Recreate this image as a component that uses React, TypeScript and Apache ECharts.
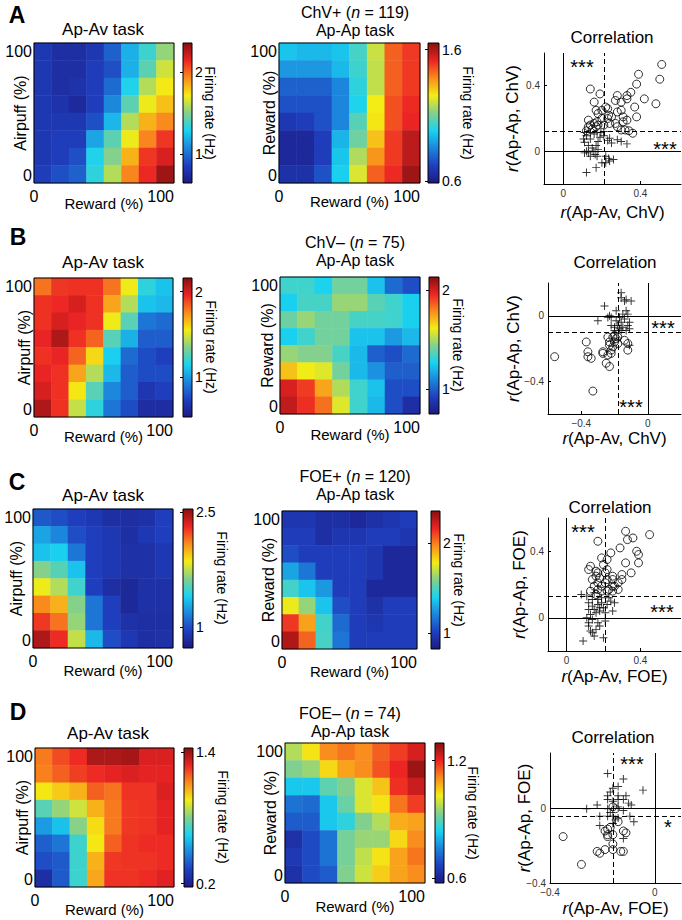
import React, { useEffect, useRef } from 'react';
import * as echarts from 'echarts';

const FONT = '"Liberation Sans", Arial, Helvetica, sans-serif';
const JET = ['#1c1a80', '#1f3fbf', '#1c86dc', '#1ad3f0', '#84d08c', '#f4ec14', '#f98c1d', '#ec2424', '#861010'];

// category levels of the 8x8 maps (columns: reward 0->100, rows: 0->100)
const LEVELS = ['0', '1', '2', '3', '4', '5', '6', '7'];

// ---------- firing-rate maps (Hz); rows listed top (100%) to bottom (0%) ----------
const chvPosApAv = [
  [0.82, 0.77, 0.77, 0.82, 0.96, 1.19, 1.36, 1.53],
  [0.82, 0.77, 0.77, 0.85, 0.91, 1.19, 1.42, 1.64],
  [0.82, 0.77, 0.79, 0.85, 0.99, 1.30, 1.59, 1.72],
  [0.82, 0.79, 0.74, 0.85, 1.08, 1.42, 1.70, 1.81],
  [0.82, 0.82, 0.82, 0.91, 1.21, 1.59, 1.84, 1.93],
  [0.82, 0.85, 0.85, 1.16, 1.42, 1.70, 1.94, 2.10],
  [0.82, 0.85, 0.91, 1.30, 1.50, 1.84, 2.10, 2.18],
  [0.85, 0.91, 0.96, 1.33, 1.59, 1.94, 2.13, 2.30],
];
const chvPosApAp = [
  [0.96, 0.94, 0.94, 0.96, 1.04, 1.20, 1.44, 1.49],
  [0.88, 0.88, 0.88, 0.94, 1.03, 1.19, 1.44, 1.49],
  [0.78, 0.78, 0.78, 0.85, 1.01, 1.19, 1.44, 1.49],
  [0.75, 0.75, 0.75, 0.85, 0.99, 1.25, 1.46, 1.51],
  [0.69, 0.71, 0.75, 0.85, 1.06, 1.26, 1.46, 1.52],
  [0.64, 0.64, 0.71, 0.93, 1.09, 1.31, 1.49, 1.58],
  [0.64, 0.64, 0.71, 0.96, 1.17, 1.37, 1.49, 1.58],
  [0.67, 0.67, 0.75, 0.98, 1.22, 1.44, 1.51, 1.62],
];
const chvNegApAv = [
  [1.80, 1.92, 1.93, 1.93, 1.80, 1.54, 1.18, 1.10],
  [1.93, 1.95, 2.00, 1.93, 1.70, 1.43, 1.10, 1.07],
  [1.93, 2.00, 1.96, 1.93, 1.54, 1.26, 0.89, 0.86],
  [1.96, 2.08, 1.93, 1.83, 1.26, 1.05, 0.82, 0.82],
  [1.93, 1.96, 1.83, 1.59, 1.13, 0.86, 0.77, 0.73],
  [1.96, 1.93, 1.70, 1.43, 1.07, 0.82, 0.77, 0.77],
  [2.00, 1.93, 1.56, 1.26, 0.94, 0.82, 0.69, 0.73],
  [2.08, 1.93, 1.46, 1.18, 0.89, 0.77, 0.64, 0.64],
];
const chvNegApAp = [
  [1.33, 1.33, 1.27, 1.41, 1.41, 1.23, 1.03, 0.96],
  [1.26, 1.34, 1.34, 1.47, 1.47, 1.37, 1.33, 1.26],
  [1.40, 1.47, 1.41, 1.41, 1.34, 1.34, 1.33, 1.26],
  [1.26, 1.33, 1.41, 1.41, 1.23, 1.23, 1.14, 1.21],
  [1.47, 1.44, 1.44, 1.34, 1.21, 1.00, 0.96, 1.03],
  [1.69, 1.61, 1.58, 1.41, 1.21, 1.12, 1.00, 1.00],
  [1.99, 1.92, 1.74, 1.51, 1.33, 1.23, 0.96, 0.96],
  [2.03, 1.94, 1.83, 1.58, 1.33, 1.21, 0.96, 0.85],
];
const foePosApAv = [
  [1.04, 1.00, 0.95, 0.91, 0.86, 0.86, 0.87, 0.95],
  [1.27, 1.18, 1.00, 0.95, 0.91, 0.86, 0.91, 0.95],
  [1.36, 1.40, 1.13, 0.95, 0.91, 0.87, 0.87, 0.91],
  [1.64, 1.54, 1.36, 0.95, 0.91, 0.87, 0.87, 0.91],
  [1.85, 1.73, 1.49, 0.95, 0.86, 0.82, 0.87, 0.87],
  [2.09, 2.00, 1.64, 1.13, 0.95, 0.82, 0.87, 0.87],
  [2.27, 2.14, 1.67, 1.13, 0.95, 0.87, 0.86, 0.86],
  [2.45, 2.30, 1.76, 1.33, 1.00, 0.91, 0.86, 0.87],
];
const foePosApAp = [
  [0.97, 0.97, 0.93, 0.93, 0.90, 0.94, 0.97, 1.00],
  [1.00, 1.00, 0.93, 0.97, 0.97, 1.00, 1.00, 0.97],
  [1.05, 1.00, 1.00, 1.00, 1.00, 0.97, 0.90, 0.90],
  [1.28, 1.16, 1.00, 1.00, 1.00, 0.97, 0.90, 0.90],
  [1.47, 1.36, 1.25, 1.00, 1.00, 0.90, 0.90, 0.90],
  [1.77, 1.62, 1.36, 1.05, 1.00, 0.94, 1.00, 1.00],
  [2.13, 1.93, 1.47, 1.13, 1.00, 0.97, 1.00, 1.00],
  [2.28, 2.05, 1.48, 1.16, 1.00, 1.00, 1.00, 1.00],
];
const foeNegApAv = [
  [1.15, 1.22, 1.27, 1.38, 1.38, 1.39, 1.31, 1.31],
  [1.14, 1.19, 1.24, 1.27, 1.29, 1.31, 1.29, 1.29],
  [0.97, 1.02, 1.06, 1.19, 1.16, 1.26, 1.26, 1.31],
  [0.74, 0.83, 0.91, 1.06, 1.15, 1.25, 1.26, 1.29],
  [0.53, 0.61, 0.81, 0.99, 1.15, 1.25, 1.26, 1.29],
  [0.40, 0.45, 0.70, 0.97, 1.19, 1.26, 1.27, 1.27],
  [0.36, 0.39, 0.70, 1.06, 1.25, 1.26, 1.26, 1.27],
  [0.26, 0.39, 0.70, 1.08, 1.26, 1.26, 1.27, 1.30],
];
const foeNegApAp = [
  [0.97, 1.03, 1.11, 1.13, 1.11, 1.15, 1.18, 1.22],
  [0.93, 0.95, 1.04, 1.09, 1.11, 1.16, 1.20, 1.27],
  [0.83, 0.83, 0.90, 0.93, 1.00, 1.06, 1.19, 1.23],
  [0.73, 0.72, 0.83, 0.91, 1.00, 1.03, 1.13, 1.18],
  [0.70, 0.70, 0.83, 0.86, 0.93, 0.97, 1.08, 1.09],
  [0.63, 0.68, 0.73, 0.92, 0.95, 0.95, 1.04, 1.11],
  [0.65, 0.68, 0.73, 0.92, 0.98, 1.03, 1.09, 1.13],
  [0.63, 0.68, 0.70, 0.93, 0.99, 1.05, 1.09, 1.11],
];

// colour-scale limits and colourbar tick labels (Hz)
const climChvPosApAv = [0.65, 2.35];
const climChvPosApAp = [0.585, 1.65];
const climChvNegApAv = [0.53, 2.16];
const climChvNegApAp = [0.75, 2.13];
const climFoePosApAv = [0.73, 2.54];
const climFoePosApAp = [0.82, 2.36];
const climFoeNegApAv = [0.17, 1.44];
const climFoeNegApAp = [0.575, 1.29];
const cbTicksChvPosApAv = [1, 2];
const cbTicksChvPosApAp = [0.6, 1.6];
const cbTicksChvNegApAv = [1, 2];
const cbTicksChvNegApAp = [1, 2];
const cbTicksFoePosApAv = [1, 2.5];
const cbTicksFoePosApAp = [1, 2];
const cbTicksFoeNegApAv = [0.2, 1.4];
const cbTicksFoeNegApAp = [0.6, 1.2];
const pctTicks = [0, 100];

// ---------- correlation scatter: [r(Ap-Av), r(Ap-Ap)] ----------
const chvPosCircles = [
  [0.51, 0.53], [0.50, 0.44], [0.39, 0.47], [0.38, 0.41], [0.42, 0.32], [0.48, 0.29], [0.33, 0.34], [0.35, 0.36],
  [0.28, 0.34], [0.33, 0.32], [0.30, 0.30], [0.27, 0.31], [0.14, 0.38], [0.19, 0.35], [0.16, 0.30], [0.22, 0.27],
  [0.23, 0.26], [0.17, 0.25], [0.18, 0.23], [0.20, 0.25], [0.28, 0.24], [0.30, 0.25], [0.37, 0.27], [0.38, 0.21],
  [0.31, 0.21], [0.33, 0.19], [0.31, 0.18], [0.27, 0.17], [0.28, 0.15], [0.30, 0.13], [0.32, 0.13], [0.36, 0.11],
  [0.34, 0.125], [0.23, 0.20], [0.24, 0.17], [0.21, 0.16], [0.13, 0.19], [0.14, 0.16], [0.16, 0.17], [0.175, 0.18],
  [0.18, 0.16], [0.13, 0.15], [0.15, 0.135], [0.17, 0.15], [0.20, 0.20], [0.235, 0.22], [0.25, 0.21], [0.12, 0.125],
];
const chvPosCrosses = [
  [0.12, -0.13], [0.17, -0.10], [0.11, -0.01], [0.13, -0.01], [0.175, -0.03], [0.22, -0.03], [0.22, -0.07], [0.24, -0.06],
  [0.26, -0.05], [0.235, -0.045], [0.20, -0.07], [0.25, 0.05], [0.30, 0.06], [0.33, 0.045], [0.28, 0.07], [0.24, 0.08],
  [0.23, 0.065], [0.21, 0.095], [0.19, 0.085], [0.18, 0.06], [0.17, 0.035], [0.15, 0.02], [0.13, 0.035], [0.11, 0.055],
  [0.105, 0.075], [0.12, 0.095], [0.14, 0.075], [0.16, 0.105], [0.175, 0.115], [0.14, 0.115], [0.11, 0.115], [0.195, 0.115],
  [0.21, 0.12], [0.12, 0.0], [0.155, 0.0], [0.165, -0.02], [0.14, -0.03], [0.18, 0.01],
];
const chvNegCircles = [
  [-0.56, -0.25], [-0.37, -0.16], [-0.36, -0.22], [-0.36, -0.25], [-0.34, -0.26], [-0.33, -0.46], [-0.27, -0.22], [-0.27, -0.23],
  [-0.24, -0.13], [-0.23, -0.16], [-0.24, -0.24], [-0.25, -0.29], [-0.23, -0.31], [-0.22, -0.21], [-0.21, -0.19], [-0.20, -0.16],
  [-0.19, -0.14], [-0.20, -0.12], [-0.18, -0.13], [-0.21, -0.13], [-0.14, -0.15], [-0.12, -0.21], [-0.12, -0.17], [-0.22, -0.23],
  [-0.18, -0.17], [-0.23, -0.18],
];
const chvNegCrosses = [
  [-0.16, 0.14], [-0.16, 0.11], [-0.14, 0.09], [-0.10, 0.09], [-0.13, 0.10], [-0.26, 0.06], [-0.19, 0.03], [-0.23, 0.0],
  [-0.22, -0.01], [-0.30, -0.03], [-0.19, -0.03], [-0.17, -0.01], [-0.15, 0.01], [-0.13, 0.03], [-0.12, 0.01], [-0.14, -0.02],
  [-0.16, -0.04], [-0.18, -0.06], [-0.20, -0.07], [-0.17, -0.08], [-0.15, -0.07], [-0.12, -0.06], [-0.11, -0.04], [-0.16, -0.09],
  [-0.20, -0.09], [-0.22, -0.06], [-0.11, -0.08], [-0.13, -0.09], [-0.11, -0.18], [-0.24, -0.01],
];
const foePosCircles = [
  [0.45, 0.50], [0.32, 0.52], [0.33, 0.47], [0.36, 0.48], [0.38, 0.40], [0.39, 0.38], [0.39, 0.33], [0.32, 0.33],
  [0.35, 0.27], [0.30, 0.26], [0.30, 0.23], [0.29, 0.42], [0.24, 0.39], [0.17, 0.46], [0.19, 0.36], [0.22, 0.35],
  [0.20, 0.32], [0.22, 0.29], [0.13, 0.31], [0.12, 0.29], [0.16, 0.28], [0.17, 0.27], [0.21, 0.27], [0.25, 0.25],
  [0.16, 0.25], [0.14, 0.23], [0.18, 0.24], [0.22, 0.23], [0.25, 0.23], [0.28, 0.21], [0.26, 0.19], [0.25, 0.19],
  [0.23, 0.17], [0.28, 0.17], [0.17, 0.21], [0.15, 0.19], [0.19, 0.19], [0.21, 0.21], [0.17, 0.17], [0.19, 0.16],
  [0.22, 0.16], [0.25, 0.16], [0.13, 0.16], [0.16, 0.14],
];
const foePosCrosses = [
  [0.09, -0.14], [0.15, -0.11], [0.20, -0.12], [0.13, -0.08], [0.16, -0.07], [0.12, -0.03], [0.14, -0.01], [0.17, -0.03],
  [0.21, -0.02], [0.11, 0.0], [0.13, 0.02], [0.16, 0.03], [0.18, 0.04], [0.21, 0.03], [0.25, 0.04], [0.26, 0.09],
  [0.24, 0.10], [0.22, 0.08], [0.19, 0.09], [0.17, 0.08], [0.14, 0.07], [0.12, 0.05], [0.15, 0.05], [0.18, 0.06],
  [0.20, 0.06], [0.12, 0.09], [0.14, 0.11], [0.17, 0.11], [0.19, 0.12], [0.23, 0.12], [0.08, 0.14], [0.11, 0.13],
  [0.15, 0.15], [0.12, -0.05], [0.18, -0.05], [0.14, -0.09],
];
const foeNegCircles = [
  [-0.35, -0.15], [-0.28, -0.30], [-0.22, -0.23], [-0.21, -0.24], [-0.19, -0.22], [-0.16, -0.22], [-0.16, -0.19], [-0.13, -0.23],
  [-0.12, -0.23], [-0.18, -0.14], [-0.16, -0.14], [-0.19, -0.12], [-0.12, -0.12], [-0.11, -0.13], [-0.17, -0.10], [-0.14, -0.07],
  [-0.15, 0.0], [-0.16, 0.01], [-0.18, -0.11], [-0.18, -0.15],
];
const foeNegCrosses = [
  [-0.18, 0.19], [-0.12, 0.16], [-0.045, 0.10], [-0.16, 0.11], [-0.14, 0.12], [-0.17, 0.09], [-0.18, 0.07], [-0.14, 0.07],
  [-0.11, 0.07], [-0.18, 0.05], [-0.16, 0.04], [-0.14, 0.05], [-0.12, 0.05], [-0.10, 0.03], [-0.09, 0.02], [-0.22, 0.02],
  [-0.26, 0.0], [-0.18, 0.0], [-0.14, 0.01], [-0.12, -0.01], [-0.21, -0.04], [-0.18, -0.04], [-0.16, -0.04], [-0.14, -0.05],
  [-0.095, -0.04], [-0.08, -0.07], [-0.15, -0.06], [-0.16, -0.08], [-0.21, -0.09], [-0.12, -0.16], [-0.17, -0.02],
];
// population means (dashed lines): [x, y]
const chvPosMeans = [0.21, 0.12];
const chvNegMeans = [-0.18, -0.10];
const foePosMeans = [0.21, 0.13];
const foeNegMeans = [-0.16, -0.04];
// axis limits and tick labels
const corrRangeChvPos = { x: [-0.1, 0.61], y: [-0.2, 0.6] };
const corrRangeChvNeg = { x: [-0.6, 0.2], y: [-0.6, 0.2] };
const corrRangeFoePos = { x: [-0.1, 0.62], y: [-0.2, 0.6] };
const corrRangeFoeNeg = { x: [-0.4, 0.1], y: [-0.4, 0.3] };
const posTicks = [0, 0.4];
const negTicks = [-0.4, 0];

// ---------- layout (pixels) ----------
const HEATMAPS = [
  { values: chvPosApAv, clim: climChvPosApAv, cbTicks: cbTicksChvPosApAv, box: [34, 43, 140, 140], cb: [183, 9], fr: [210, 113], yName: 'Airpuff (%)', yGap: 6, xGap: 13 },
  { values: chvPosApAp, clim: climChvPosApAp, cbTicks: cbTicksChvPosApAp, box: [279, 43, 141, 140], cb: [428, 11], fr: [468, 113], yName: 'Reward (%)', yGap: 2, xGap: 11 },
  { values: chvNegApAv, clim: climChvNegApAv, cbTicks: cbTicksChvNegApAv, box: [34, 278, 139, 139], cb: [183, 9], fr: [211, 347], yName: 'Airpuff (%)', yGap: 2, xGap: 12 },
  { values: chvNegApAp, clim: climChvNegApAp, cbTicks: cbTicksChvNegApAp, box: [280, 277, 140, 137], cb: [429, 10], fr: [458, 345], yName: 'Reward (%)', yGap: 5, xGap: 13 },
  { values: foePosApAv, clim: climFoePosApAv, cbTicks: cbTicksFoePosApAv, box: [33, 509, 140, 139], cb: [183, 10], fr: [222, 578], yName: 'Airpuff (%)', yGap: 9, xGap: 15 },
  { values: foePosApAp, clim: climFoePosApAp, cbTicks: cbTicksFoePosApAp, box: [282, 511, 135, 138], cb: [431, 9], fr: [459, 580], yName: 'Reward (%)', yGap: 6, xGap: 15 },
  { values: foeNegApAv, clim: climFoeNegApAv, cbTicks: cbTicksFoeNegApAv, box: [35, 748, 139, 139], cb: [184, 9], fr: [223, 817], yName: 'Airpuff (%)', yGap: 5, xGap: 15 },
  { values: foeNegApAp, clim: climFoeNegApAp, cbTicks: cbTicksFoeNegApAp, box: [285, 743, 140, 140], cb: [435, 9], fr: [473, 813], yName: 'Reward (%)', yGap: 7, xGap: 16 },
];

const SCATTERS = [
  { circles: chvPosCircles, crosses: chvPosCrosses, means: chvPosMeans, range: corrRangeChvPos, ticks: posTicks, yTicks: posTicks, box: [544, 53, 137, 131], xName: '{i|r}(Ap-Av, ChV)', yName: '{i|r}(Ap-Ap, ChV)', xGap: 20, yGap: 23 },
  { circles: chvNegCircles, crosses: chvNegCrosses, means: chvNegMeans, range: corrRangeChvNeg, ticks: negTicks, yTicks: negTicks, box: [548, 283, 133, 131], xName: '{i|r}(Ap-Av, ChV)', yName: '{i|r}(Ap-Ap, ChV)', xGap: 16, yGap: 26 },
  { circles: foePosCircles, crosses: foePosCrosses, means: foePosMeans, range: corrRangeFoePos, ticks: posTicks, yTicks: posTicks, box: [548, 518, 133, 133], xName: '{i|r}(Ap-Av, FOE)', yName: '{i|r}(Ap-Ap, FOE)', xGap: 17, yGap: 20 },
  { circles: foeNegCircles, crosses: foeNegCrosses, means: foeNegMeans, range: corrRangeFoeNeg, ticks: negTicks, yTicks: negTicks, box: [550, 753, 131, 130], xName: '{i|r}(Ap-Av, FOE)', yName: '{i|r}(Ap-Ap, FOE)', xGap: 17, yGap: 17 },
];

const TEXTS: any[] = [
  // [x, y, text, size, bold]
  [17, 15, 'A', 23, true], [18, 237, 'B', 23, true], [17, 482, 'C', 23, true], [18, 712, 'D', 23, true],
  [103, 29, 'Ap-Av task', 17], [355, 12, 'ChV+ ({i|n} = 119)', 16], [355, 30, 'Ap-Ap task', 16], [612, 37, 'Correlation', 17],
  [103, 262, 'Ap-Av task', 17], [355, 242, 'ChV– ({i|n} = 75)', 16], [355, 260, 'Ap-Ap task', 16], [615, 262, 'Correlation', 17],
  [103, 495, 'Ap-Av task', 17], [355, 476, 'FOE+ ({i|n} = 120)', 16], [355, 494, 'Ap-Ap task', 16], [610, 507, 'Correlation', 17],
  [108, 733, 'Ap-Av task', 17], [350, 713, 'FOE– ({i|n} = 74)', 16], [350, 731, 'Ap-Ap task', 16], [613, 737, 'Correlation', 17],
];
const STARS: any[] = [
  [582, 67, '***'], [665, 149, '***'],
  [663, 328, '***'], [631, 407, '***'],
  [583, 532, '***'], [662, 612, '***'],
  [632, 764, '***'], [668, 827, '*'],
];

const PLUS = 'path://M4.4,0H5.6V4.4H10V5.6H5.6V10H4.4V5.6H0V4.4H4.4Z';
const minus = (v: any) => String(v).replace('-', '\u2212');

function buildOption() {
  const grid: any[] = [];
  const xAxis: any[] = [];
  const yAxis: any[] = [];
  const series: any[] = [];
  const visualMap: any[] = [];
  const graphic: any[] = [];
  const gradient = {
    type: 'linear', x: 0, y: 1, x2: 0, y2: 0,
    colorStops: JET.map((c, i) => ({ offset: i / (JET.length - 1), color: c })),
  };

  HEATMAPS.forEach((h) => {
    const [l, t, w, hh] = h.box;
    const g = grid.length;
    grid.push({ left: l, top: t, width: w, height: hh, show: true, borderColor: '#000', borderWidth: 1, backgroundColor: 'transparent', z: 5 });
    const xi = xAxis.length;
    xAxis.push({ type: 'category', gridIndex: g, data: LEVELS, show: false });
    const yi = yAxis.length;
    yAxis.push({ type: 'category', gridIndex: g, data: LEVELS, show: false });
    xAxis.push({
      type: 'value', gridIndex: g, min: 0, max: 100, position: 'bottom',
      axisLine: { show: false }, axisTick: { show: false }, splitLine: { show: false },
      axisLabel: { customValues: pctTicks, fontSize: 16, color: '#000', margin: 5, fontFamily: FONT, alignMinLabel: 'center', alignMaxLabel: 'right' },
      name: 'Reward (%)', nameLocation: 'middle', nameGap: h.xGap, nameMoveOverlap: false,
      nameTextStyle: { fontSize: 15, color: '#000', fontFamily: FONT },
    });
    yAxis.push({
      type: 'value', gridIndex: g, min: 0, max: 100, position: 'left',
      axisLine: { show: false }, axisTick: { show: false }, splitLine: { show: false },
      axisLabel: { customValues: pctTicks, fontSize: 16, color: '#000', margin: 2, fontFamily: FONT, verticalAlignMinLabel: 'bottom', verticalAlignMaxLabel: 'top' },
      name: h.yName, nameLocation: 'middle', nameGap: h.yGap, nameMoveOverlap: false,
      nameTextStyle: { fontSize: 16, color: '#000', fontFamily: FONT },
    });
    const si = series.length;
    const data: any[] = [];
    h.values.forEach((row, r) => row.forEach((v, c) => data.push([c, LEVELS.length - 1 - r, v])));
    series.push({ type: 'heatmap', xAxisIndex: xi, yAxisIndex: yi, data, itemStyle: { borderWidth: 0 }, emphasis: { disabled: true }, silent: true });
    visualMap.push({ type: 'continuous', show: false, seriesIndex: si, dimension: 2, min: h.clim[0], max: h.clim[1], inRange: { color: JET } });

    // colourbar
    const cg = grid.length;
    grid.push({ left: h.cb[0], top: t, width: h.cb[1], height: hh, show: true, borderColor: '#000', borderWidth: 1, backgroundColor: gradient });
    xAxis.push({ type: 'value', gridIndex: cg, show: false });
    yAxis.push({
      type: 'value', gridIndex: cg, min: h.clim[0], max: h.clim[1], position: 'right',
      axisLine: { show: false }, splitLine: { show: false },
      axisTick: { show: true, inside: true, length: 3, customValues: h.cbTicks, lineStyle: { color: '#000' } },
      axisLabel: { customValues: h.cbTicks, fontSize: 14, color: '#000', margin: 3, fontFamily: FONT },
    });
    graphic.push({
      type: 'text', x: h.fr[0], y: h.fr[1], rotation: -Math.PI / 2, z: 100,
      style: { text: 'Firing rate (Hz)', fontSize: 14, fontFamily: FONT, fill: '#000', align: 'center', verticalAlign: 'middle' },
    });
  });

  SCATTERS.forEach((s) => {
    const [l, t, w, hh] = s.box;
    const g = grid.length;
    grid.push({ left: l, top: t, width: w, height: hh });
    const axisCommon = {
      axisLine: { show: true, onZero: false, lineStyle: { color: '#000', width: 1 } },
      splitLine: { show: false },
      nameLocation: 'middle',
      nameMoveOverlap: false,
      nameTextStyle: { fontSize: 17, color: '#000', fontFamily: FONT, rich: { i: { fontStyle: 'italic', fontSize: 17, fontFamily: FONT, color: '#000' } } },
    };
    const xi = xAxis.length;
    xAxis.push({
      ...axisCommon, type: 'value', gridIndex: g, min: s.range.x[0], max: s.range.x[1], position: 'bottom',
      axisTick: { show: true, inside: true, length: 3, customValues: s.ticks, lineStyle: { color: '#000' } },
      axisLabel: { customValues: s.ticks, fontSize: 10, color: '#333', margin: 4, fontFamily: FONT, formatter: minus },
      name: s.xName, nameGap: s.xGap,
    });
    const yi = yAxis.length;
    yAxis.push({
      ...axisCommon, type: 'value', gridIndex: g, min: s.range.y[0], max: s.range.y[1], position: 'left',
      axisTick: { show: true, inside: true, length: 3, customValues: s.yTicks, lineStyle: { color: '#000' } },
      axisLabel: { customValues: s.yTicks, fontSize: 10, color: '#333', margin: 4, fontFamily: FONT, formatter: minus },
      name: s.yName, nameGap: s.yGap,
    });
    series.push({
      type: 'scatter', xAxisIndex: xi, yAxisIndex: yi, data: s.crosses, symbol: PLUS, symbolSize: 8,
      itemStyle: { color: '#000' }, silent: true,
      markLine: {
        silent: true, symbol: ['none', 'none'], label: { show: false },
        lineStyle: { color: '#000', width: 1 },
        data: [
          { xAxis: 0, lineStyle: { type: 'solid', color: '#000', width: 1 } },
          { yAxis: 0, lineStyle: { type: 'solid', color: '#000', width: 1 } },
          { xAxis: s.means[0], lineStyle: { type: [5, 3], color: '#000', width: 1 } },
          { yAxis: s.means[1], lineStyle: { type: [5, 3], color: '#000', width: 1 } },
        ],
      },
    });
    series.push({
      type: 'scatter', xAxisIndex: xi, yAxisIndex: yi, data: s.circles, symbol: 'circle', symbolSize: 8,
      itemStyle: { color: 'rgba(0,0,0,0)', borderColor: '#000', borderWidth: 1 }, silent: true,
    });
  });

  TEXTS.forEach(([x, y, text, size, bold]) => {
    graphic.push({
      type: 'text', x, y, z: 100,
      style: {
        text, fontSize: size, fontWeight: bold ? 'bold' : 'normal', fontFamily: FONT, fill: '#000', align: 'center', verticalAlign: 'middle',
        rich: { i: { fontStyle: 'italic', fontSize: size, fontFamily: FONT, fill: '#000' } },
      },
    });
  });
  STARS.forEach(([x, y, text]) => {
    graphic.push({
      type: 'text', x, y, z: 100,
      style: { text, fontSize: 20, fontFamily: FONT, fill: '#000', align: 'center', verticalAlign: 'middle' },
    });
  });

  return {
    animation: false,
    backgroundColor: '#fff',
    textStyle: { fontFamily: FONT },
    grid, xAxis, yAxis, series, visualMap, graphic,
  };
}

export default function App() {
  const ref = useRef<HTMLDivElement>(null);
  useEffect(() => {
    if (!ref.current) return;
    const chart = echarts.init(ref.current, undefined, { renderer: 'svg' });
    chart.setOption(buildOption() as any);
    return () => chart.dispose();
  }, []);
  return <div ref={ref} style={{ position: 'absolute', left: 0, top: 0, width: 682, height: 920 }} />;
}
